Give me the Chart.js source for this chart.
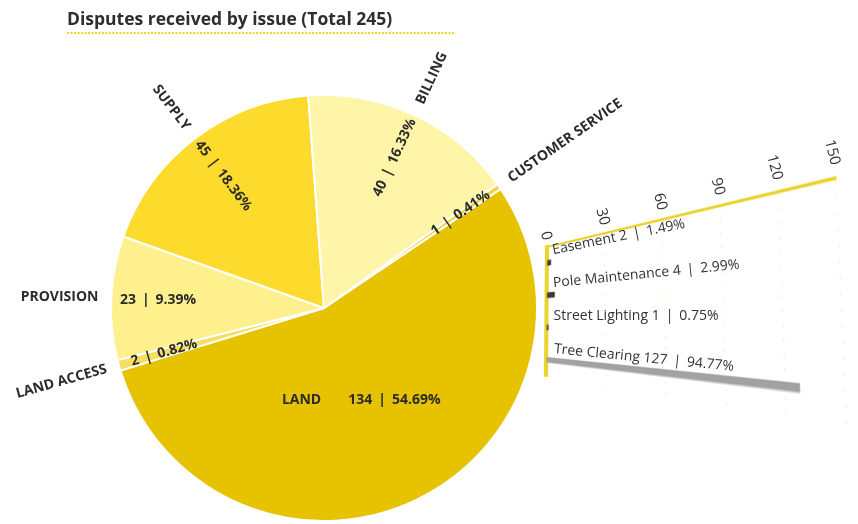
<!DOCTYPE html>
<html>
<head>
<meta charset="utf-8">
<script src="https://cdn.jsdelivr.net/npm/chart.js@4.4.1/dist/chart.umd.min.js"></script>
<style>
  html, body { margin: 0; padding: 0; background: #fff; width: 858px; height: 524px; overflow: hidden; }
  #pie, #landView { position: absolute; left: 0; top: 0; }
  #landView { pointer-events: none; }
  #landSrc { position: absolute; left: -1200px; top: 0; }
</style>
</head>
<body>
<canvas id="pie" width="858" height="524"></canvas>
<canvas id="landSrc" width="340" height="200"></canvas>
<canvas id="landView" width="858" height="524"></canvas>
<script>
// Disputes by issue
const issues = ['LAND', 'LAND ACCESS', 'PROVISION', 'SUPPLY', 'BILLING', 'CUSTOMER SERVICE'];
const disputes = [134, 2, 23, 45, 40, 1];
const disputeShares = ['54.69%', '0.82%', '9.39%', '18.36%', '16.33%', '0.41%'];
const issueColors = ['#E7C200', '#F6DE62', '#FEF08C', '#FCDB2C', '#FEF5A8', '#F0D23C'];

// Breakdown of LAND disputes
const landIssues = ['Easement', 'Pole Maintenance', 'Street Lighting', 'Tree Clearing'];
const landDisputes = [2, 4, 1, 127];
const landShares = ['1.49%', '2.99%', '0.75%', '94.77%'];
const landColors = ['#3c3c3c', '#3c3c3c', '#3c3c3c', '#A2A2A2'];
const landTicks = [0, 30, 60, 90, 120, 150];

const titleText = 'Disputes received by issue (Total 245)';
const totalDisputes = disputes.reduce((a, b) => a + b, 0);
const inkColor = '#2b2b2b';
const sep = ' \u2009|\u2009 ';

// Title and dotted rule
const heading = {
  id: 'heading',
  afterDraw(chart) {
    const ctx = chart.ctx;
    ctx.save();
    ctx.font = 'bold 17.5px "Open Sans"';
    ctx.fillStyle = '#2e2e2e';
    ctx.textBaseline = 'alphabetic';
    ctx.textAlign = 'left';
    ctx.fillText(titleText, 67, 25);
    ctx.strokeStyle = '#EFD81E';
    ctx.lineWidth = 2;
    ctx.setLineDash([2, 1.5]);
    ctx.beginPath();
    ctx.moveTo(67, 33);
    ctx.lineTo(455, 33);
    ctx.stroke();
    ctx.restore();
  }
};

// Slice names outside the pie, counts and shares inside, along each slice's radius
const pieLabels = {
  id: 'pieLabels',
  afterDatasetsDraw(chart) {
    const ctx = chart.ctx;
    const arcs = chart.getDatasetMeta(0).data;
    ctx.save();
    ctx.fillStyle = inkColor;
    ctx.font = 'bold 14px "Open Sans"';
    ctx.textBaseline = 'middle';
    arcs.forEach((arc, i) => {
      const { x, y, startAngle, endAngle, outerRadius: r } = arc;
      const mid = (startAngle + endAngle) / 2;
      const dx = Math.cos(mid), dy = Math.sin(mid);
      const value = disputes[i] + sep + disputeShares[i];
      if (disputes[i] / totalDisputes > 0.5) {
        const px = x + dx * r * 0.405, py = y + dy * r * 0.48;
        const gap = 27;
        const wN = ctx.measureText(issues[i]).width;
        const wV = ctx.measureText(value).width;
        const sx = px - (wN + gap + wV) / 2;
        ctx.textAlign = 'left';
        ctx.fillText(issues[i], sx, py);
        ctx.fillText(value, sx + wN + gap, py);
        return;
      }
      const outward = dx >= 0;
      let rot = outward ? mid : mid + Math.PI;
      rot = Math.atan2(Math.sin(rot), Math.cos(rot));
      if (Math.abs(rot) < 0.07) rot = 0;

      ctx.save();
      ctx.translate(x + dx * r * 0.78, y + dy * r * 0.78);
      ctx.rotate(rot);
      ctx.textAlign = 'center';
      ctx.fillText(value, 0, 0);
      ctx.restore();

      ctx.save();
      ctx.translate(x + dx * r * 1.06, y + dy * r * 1.06);
      ctx.rotate(rot);
      ctx.textAlign = outward ? 'left' : 'right';
      ctx.fillText(issues[i], 0, 0);
      ctx.restore();
    });
    ctx.restore();
  }
};

new Chart(document.getElementById('pie'), {
  type: 'pie',
  data: {
    labels: issues,
    datasets: [{
      data: disputes,
      backgroundColor: issueColors,
      borderColor: '#ffffff',
      borderWidth: 2,
      hoverOffset: 0
    }]
  },
  options: {
    responsive: false,
    animation: false,
    devicePixelRatio: 1,
    rotation: 56,
    layout: { padding: { left: 110, right: 320, top: 94, bottom: 2 } },
    plugins: { legend: { display: false }, tooltip: { enabled: false } }
  },
  plugins: [heading, pieLabels]
});

// Paper-white backing for the bar panel
const paper = {
  id: 'paper',
  beforeDraw(chart) {
    const ctx = chart.ctx;
    ctx.save();
    ctx.fillStyle = '#ffffff';
    ctx.fillRect(0, 0, chart.width, chart.height);
    ctx.restore();
  }
};

// LAND breakdown: horizontal bars with the value axis on top
const landSrc = document.getElementById('landSrc');
const landChart = new Chart(landSrc, {
  type: 'bar',
  data: {
    labels: landIssues,
    datasets: [{ data: landDisputes, backgroundColor: landColors, barThickness: 5 }]
  },
  options: {
    indexAxis: 'y',
    responsive: false,
    animation: false,
    devicePixelRatio: 1,
    layout: { padding: { left: 20, top: 30, right: 30, bottom: 40 } },
    plugins: { legend: { display: false }, tooltip: { enabled: false } },
    scales: {
      x: {
        position: 'top', min: 0, max: 150,
        ticks: { stepSize: 30, display: false },
        grid: { drawTicks: false, color: 'rgba(236,222,110,0.4)', lineWidth: 1.5 },
        border: { display: true, color: '#E9D430', width: 2, dash: [1.5, 7] }
      },
      y: {
        ticks: { display: false },
        grid: { display: false, drawTicks: false },
        border: { display: true, color: '#EAD52C', width: 4 }
      }
    }
  },
  plugins: [paper]
});

// The panel sits in the page as a fanned quadrilateral (bilinear layout)
const ca = landChart.chartArea;
const quad = { tl: [547, 247], tr: [836, 178], br: [847, 424], bl: [546, 376] };
function place(sx, sy) {
  const u = (sx - ca.left) / (ca.right - ca.left);
  const v = (sy - ca.top) / (ca.bottom - ca.top);
  const tx = quad.tl[0] + u * (quad.tr[0] - quad.tl[0]);
  const ty = quad.tl[1] + u * (quad.tr[1] - quad.tl[1]);
  const bx = quad.bl[0] + u * (quad.br[0] - quad.bl[0]);
  const by = quad.bl[1] + u * (quad.br[1] - quad.bl[1]);
  return [tx + v * (bx - tx), ty + v * (by - ty)];
}
function runAngle(sx, sy) {
  const a = place(sx, sy), b = place(sx + 1, sy);
  return Math.atan2(b[1] - a[1], b[0] - a[0]);
}

// Copy the panel into the page one thin column at a time
const view = document.getElementById('landView').getContext('2d');
view.imageSmoothingEnabled = true;
view.imageSmoothingQuality = 'high';
const y0 = Math.floor(ca.top - 5), y1 = Math.ceil(ca.bottom + 5), hh = y1 - y0;
const step = 1;
for (let x0 = Math.floor(ca.left - 3); x0 < ca.right + 5; x0 += step) {
  const p00 = place(x0, y0), p10 = place(x0 + step, y0), p01 = place(x0, y1);
  view.setTransform(
    (p10[0] - p00[0]) / step, (p10[1] - p00[1]) / step,
    (p01[0] - p00[0]) / hh, (p01[1] - p00[1]) / hh,
    p00[0], p00[1]
  );
  view.drawImage(landSrc, x0, y0, step + 2, hh, 0, 0, step + 2, hh);
}
view.setTransform(1, 0, 0, 1, 0, 0);

// Tick labels, perpendicular to the top axis
const xs = landChart.scales.x;
view.fillStyle = '#333333';
view.font = '15px "Open Sans"';
view.textBaseline = 'middle';
view.textAlign = 'right';
landTicks.forEach(t => {
  const sx = xs.getPixelForValue(t), sy = ca.top - 7;
  const p = place(sx, sy);
  view.save();
  view.translate(p[0], p[1]);
  view.rotate(runAngle(sx, sy) + Math.PI / 2);
  view.fillText(String(t), 0, 0);
  view.restore();
});

// Value labels just above each bar
view.font = '14px "Open Sans"';
view.textAlign = 'left';
view.textBaseline = 'bottom';
landChart.getDatasetMeta(0).data.forEach((bar, i) => {
  const sx = ca.left + 7, sy = bar.y - bar.height / 2 - 2;
  const p = place(sx, sy);
  view.save();
  view.translate(p[0], p[1]);
  view.rotate(runAngle(sx, sy));
  view.fillText(landIssues[i] + ' ' + landDisputes[i] + sep + landShares[i], 0, 0);
  view.restore();
});
</script>
</body>
</html>
